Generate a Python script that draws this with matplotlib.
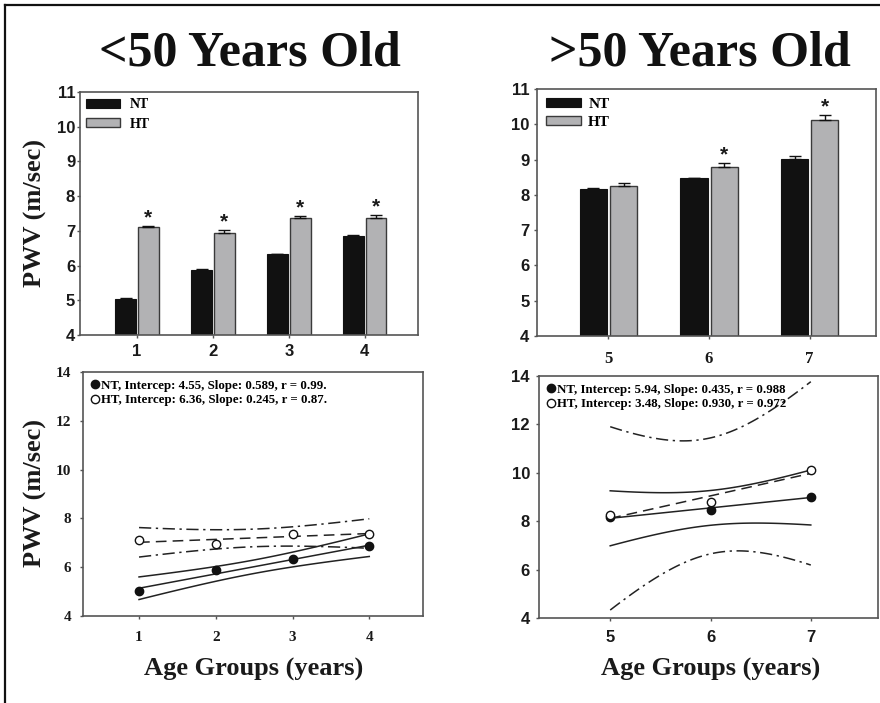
import matplotlib.pyplot as plt
import numpy as np
from matplotlib.lines import Line2D

W, H = 880, 703
SERIF = 'Liberation Serif'
SANS = 'Liberation Sans'
INK = '#1a1a1a'
SPINE = '#555555'

# Bar panels: mean PWV (m/sec) per age group, with upper error
series_labels = ['NT', 'HT']
young_groups = [1, 2, 3, 4]
young_nt = [5.04, 5.87, 6.32, 6.85]
young_nt_err = [0.02, 0.02, 0.02, 0.02]
young_ht = [7.11, 6.95, 7.37, 7.37]
young_ht_err = [0.03, 0.08, 0.05, 0.08]
young_sig = [True, True, True, True]

old_groups = [5, 6, 7]
old_nt = [8.16, 8.47, 9.02]
old_nt_err = [0.03, 0.02, 0.08]
old_ht = [8.25, 8.78, 10.11]
old_ht_err = [0.09, 0.13, 0.15]
old_sig = [False, True, True]

# Regression panel legends (as printed in the figure)
young_fit_labels = ['NT, Intercep: 4.55, Slope: 0.589, r = 0.99.',
                    'HT, Intercep: 6.36, Slope: 0.245, r = 0.87.']
old_fit_labels = ['NT, Intercep: 5.94, Slope: 0.435, r = 0.988',
                  'HT, Intercep: 3.48, Slope: 0.930, r = 0.972']

# two-sided 95% t values by degrees of freedom
T95 = {1: 12.706, 2: 4.303}

fig = plt.figure(figsize=(W / 100, H / 100), dpi=100)


def px_axes(l, t, r, b):
    return fig.add_axes([l / W, 1 - b / H, (r - l) / W, (b - t) / H])


def style(ax, tickfont, tsize, xpad, ypad):
    for s in ax.spines.values():
        s.set_color(SPINE)
        s.set_linewidth(1.2)
    ax.tick_params(direction='out', length=2.5, width=1, color=SPINE)
    ax.tick_params(axis='x', pad=xpad)
    ax.tick_params(axis='y', pad=ypad)
    for lab in ax.get_xticklabels() + ax.get_yticklabels():
        lab.set_fontfamily(tickfont)
        lab.set_fontweight('bold')
        lab.set_fontsize(tsize)
        lab.set_color(INK)


def bar_panel(ax, groups, nt, nt_err, ht, ht_err, sig, xlim, legsize, leg_kw):
    x = np.array(groups, dtype=float)
    b1 = ax.bar(x - 0.15, nt, 0.27, color='#111111', edgecolor='#111111',
                linewidth=0.8, yerr=[np.zeros(len(nt)), nt_err], capsize=4,
                error_kw=dict(elinewidth=1, capthick=1, ecolor='#111111'))
    b2 = ax.bar(x + 0.15, ht, 0.27, color='#b2b2b4', edgecolor='#3a3a3a',
                linewidth=1, yerr=[np.zeros(len(ht)), ht_err], capsize=4,
                error_kw=dict(elinewidth=1, capthick=1, ecolor='#111111'))
    for xi, h, e, s in zip(x, ht, ht_err, sig):
        if s:
            ax.annotate('*', xy=(xi + 0.15, h + e), xytext=(0, 6),
                        textcoords='offset points', ha='center', va='center',
                        fontsize=15, fontfamily=SANS, fontweight='bold', color=INK)
    ax.set_xlim(*xlim)
    ax.set_ylim(4, 11)
    ax.set_xticks(groups)
    ax.set_yticks(range(4, 12))
    ax.legend([b1, b2], series_labels, loc='upper left', frameon=False,
              prop=dict(family=SERIF, weight='bold', size=legsize), **leg_kw)


def fit_panel(ax, groups, nt, ht, labels, xlim, legsize, leg_kw):
    x = np.array(groups, dtype=float)
    xs = np.linspace(x.min(), x.max(), 80)
    styles = [('-', '-'), ((0, (7, 4)), (0, (8, 3, 1.5, 3)))]
    for y, (fit_ls, band_ls) in zip([nt, ht], styles):
        y = np.array(y)
        slope, icpt = np.polyfit(x, y, 1)
        resid = y - (icpt + slope * x)
        dof = len(x) - 2
        s = np.sqrt(np.sum(resid ** 2) / dof)
        hw = T95[dof] * s * np.sqrt(1 / len(x) + (xs - x.mean()) ** 2 / np.sum((x - x.mean()) ** 2))
        pred = icpt + slope * xs
        ax.plot(xs, pred, color='#222222', lw=1.1, ls=fit_ls)
        ax.plot(xs, pred + hw, color='#222222', lw=1.1, ls=band_ls)
        ax.plot(xs, pred - hw, color='#222222', lw=1.1, ls=band_ls)
    ax.plot(x, nt, 'o', ms=6, mfc='#111111', mec='#111111', mew=1, zorder=4)
    ax.plot(x, ht, 'o', ms=6, mfc='white', mec='#111111', mew=1, zorder=4)
    ax.set_xlim(*xlim)
    ax.set_ylim(4, 14)
    ax.set_xticks(groups)
    ax.set_yticks(range(4, 15, 2))
    handles = [Line2D([], [], ls='none', marker='o', ms=6, mfc='#111111', mec='#111111'),
               Line2D([], [], ls='none', marker='o', ms=6, mfc='white', mec='#111111')]
    ax.legend(handles, labels, loc='upper left', frameon=False,
              prop=dict(family=SERIF, weight='bold', size=legsize), **leg_kw)


ax_tl = px_axes(80, 92, 418, 335)
bar_panel(ax_tl, young_groups, young_nt, young_nt_err, young_ht, young_ht_err, young_sig,
          (0.25, 4.7), 10,
          dict(bbox_to_anchor=(0.0, 1.0), borderaxespad=0.25, borderpad=0.2,
               handlelength=2.45, handleheight=0.6, handletextpad=0.7, labelspacing=0.45))
style(ax_tl, SANS, 12, 4, 1)

ax_tr = px_axes(537, 89, 876, 336)
bar_panel(ax_tr, old_groups, old_nt, old_nt_err, old_ht, old_ht_err, old_sig,
          (4.29, 7.66), 11,
          dict(bbox_to_anchor=(0.0, 1.0), borderaxespad=0.3, borderpad=0.3,
               handlelength=2.3, handleheight=0.55, handletextpad=0.45, labelspacing=0.3))
style(ax_tr, SANS, 12, 8, 3)
for lab in ax_tr.get_xticklabels():
    lab.set_fontfamily(SERIF)

ax_bl = px_axes(83, 372, 423, 616)
fit_panel(ax_bl, young_groups, young_nt, young_ht, young_fit_labels, (0.27, 4.70), 9.3,
          dict(bbox_to_anchor=(0.0, 1.0), borderaxespad=0.3, borderpad=0.3,
               handlelength=0.6, handletextpad=0.2, labelspacing=0.2))
style(ax_bl, SERIF, 11, 8, 6)

ax_br = px_axes(539, 376, 878, 618)
fit_panel(ax_br, old_groups, old_nt, old_ht, old_fit_labels, (4.29, 7.67), 9.3,
          dict(bbox_to_anchor=(0.0, 1.0), borderaxespad=0.3, borderpad=0.3,
               handlelength=0.6, handletextpad=0.2, labelspacing=0.2))
style(ax_br, SANS, 12, 6.5, 4)

# titles and axis labels
for cx, txt in [(250, '<50 Years Old'), (700, '>50 Years Old')]:
    fig.text(cx / W, 1 - 66 / H, txt, ha='center', va='baseline', fontsize=36,
             fontfamily=SERIF, fontweight='bold', color='#111111')
for cx in [254, 711]:
    fig.text(cx / W, 1 - 676 / H, 'Age Groups (years)', ha='center', va='baseline',
             fontsize=19, fontfamily=SERIF, fontweight='bold', color=INK)
for cy in [213, 493]:
    fig.text(35 / W, 1 - cy / H, 'PWV (m/sec)', ha='center', va='center', rotation=90,
             fontsize=19, fontfamily=SERIF, fontweight='bold', color=INK)

# outer frame (cut off at right and bottom)
fig.add_artist(Line2D([5 / W, 5 / W], [0, 1 - 5 / H], transform=fig.transFigure,
                      color='#111111', lw=1.6))
fig.add_artist(Line2D([5 / W, 1], [1 - 5 / H, 1 - 5 / H], transform=fig.transFigure,
                      color='#111111', lw=1.6))

fig.savefig('out.png', dpi=100)
